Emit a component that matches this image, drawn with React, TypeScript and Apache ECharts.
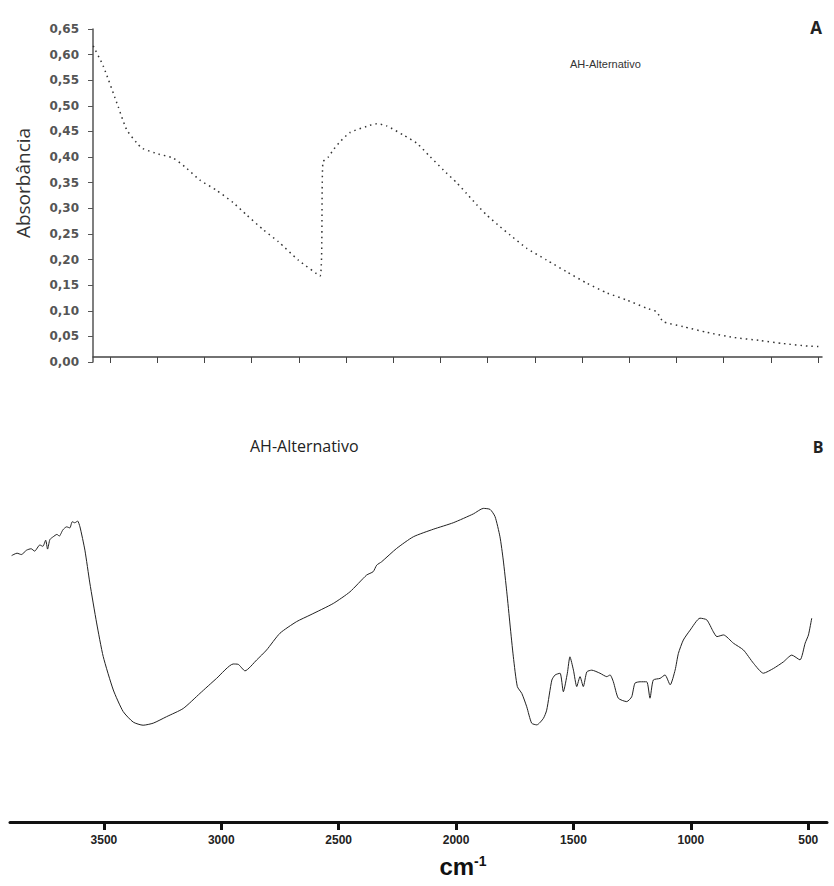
import React, { useEffect, useRef } from "react";
import * as echarts from "echarts";

// Panel A: absorbance (dotted curve)
const topWavenumber = [3671,3628,3565,3529,3487,3463,3395,3332,3275,3219,3148,3078,3021,2950,2887,2802,2710,2698,2675,2654,2625,2583,2512,2470,2428,2357,2300,2244,2188,2131,2089,2046,2004,1947,1905,1834,1750,1665,1580,1495,1411,1326,1284,1256,1171,1072,959,846,747,641,592];
const topAbsorbance = [0.617,0.577,0.498,0.453,0.428,0.417,0.406,0.398,0.378,0.355,0.335,0.311,0.287,0.258,0.235,0.199,0.168,0.390,0.400,0.414,0.430,0.448,0.460,0.465,0.461,0.443,0.427,0.401,0.375,0.350,0.329,0.307,0.287,0.264,0.248,0.222,0.199,0.176,0.154,0.135,0.121,0.105,0.098,0.079,0.069,0.058,0.048,0.042,0.036,0.031,0.030];
const topTicks = [600,800,1000,1200,1400,1600,1800,2000,2200,2400,2600,2800,3000,3200,3400,3600];

// Panel B: FTIR transmittance (arbitrary units)
const bottomWavenumber = [3893,3870,3852,3829,3810,3795,3773,3760,3748,3740,3730,3716,3700,3690,3675,3659,3645,3635,3624,3612,3602,3581,3560,3531,3503,3460,3418,3375,3333,3290,3233,3162,3091,3020,2949,2928,2899,2849,2807,2750,2679,2622,2523,2452,2381,2353,2338,2317,2253,2182,2097,2012,1926,1884,1855,1834,1813,1799,1784,1770,1756,1739,1720,1699,1678,1656,1628,1614,1592,1578,1557,1543,1526,1515,1500,1486,1472,1458,1443,1422,1387,1358,1344,1330,1309,1273,1252,1238,1216,1188,1174,1160,1131,1110,1088,1067,1053,1032,1003,961,932,904,889,861,819,776,733,691,648,606,570,535,513,499,485];
const bottomTransmittance = [77.9,78.6,78.2,79.5,79.9,79.2,81.0,80.6,82.4,79.8,82.6,83.4,84.1,83.6,85.4,86.3,86.0,87.8,87.5,88.0,86.3,79.5,69.9,58.2,48.4,38.6,32.3,29.2,28.3,28.9,30.8,33.2,37.6,42.0,46.2,46.1,44.2,47.4,50.3,55.2,58.6,60.5,63.9,67.3,72.2,73.2,75.1,76.1,80.0,83.4,85.6,87.5,90.1,91.7,91.4,89.3,83.4,76.6,67.3,57.6,48.3,39.6,37.6,33.7,28.9,28.4,30.3,32.7,41.5,43.0,43.5,38.1,43.5,48.3,44.4,39.6,42.5,39.6,43.9,44.4,43.5,42.5,43.0,41.0,36.2,35.2,36.6,40.6,41.0,41.0,36.2,41.5,42.0,43.0,40.1,44.4,49.3,53.2,56.1,59.6,59.1,55.6,54.2,54.7,52.3,50.3,46.4,43.5,44.9,46.8,48.8,47.4,52.3,54.7,59.6];
const bottomTicks = [500,1000,1500,2000,2500,3000,3500];

export default function App() {
  const ref = useRef<HTMLDivElement>(null);
  useEffect(() => {
    document.body.style.margin = "0";
    if (!ref.current) return;
    const chart = echarts.init(ref.current, undefined, { renderer: "svg" });
    const topData = topWavenumber.map((w, i) => [w, topAbsorbance[i]]);
    const bottomData = bottomWavenumber.map((w, i) => [w, bottomTransmittance[i]]);
    chart.setOption({
      animation: false,
      backgroundColor: "#ffffff",
      grid: [
        { left: 93, right: 12, top: 29, bottom: 524 },
        { left: 10, right: 7, top: 480, bottom: 64 },
      ],
      xAxis: [
        {
          gridIndex: 0,
          type: "value",
          min: 583,
          max: 3672,
          inverse: true,
          offset: -5,
          axisLine: { show: true, lineStyle: { color: "#444", width: 1.5 } },
          axisTick: { show: true, inside: false, length: 6, customValues: topTicks, lineStyle: { color: "#444", width: 1 } },
          axisLabel: { show: false },
          splitLine: { show: false },
        },
        {
          gridIndex: 1,
          type: "value",
          min: 420,
          max: 3900,
          inverse: true,
          axisLine: { show: true, lineStyle: { color: "#111", width: 3 } },
          axisTick: { show: true, inside: false, length: 8, customValues: bottomTicks, lineStyle: { color: "#111", width: 3 } },
          axisLabel: {
            show: true,
            customValues: bottomTicks,
            margin: 12,
            fontSize: 12,
            fontWeight: "bold",
            fontFamily: "Liberation Sans, Arial, sans-serif",
            color: "#222",
            formatter: (v: number) => String(v),
          },
          splitLine: { show: false },
        },
      ],
      yAxis: [
        {
          gridIndex: 0,
          type: "value",
          min: 0,
          max: 0.65,
          interval: 0.05,
          axisLine: { show: true, lineStyle: { color: "#555", width: 1.5 } },
          axisTick: { show: true, inside: false, length: 5, lineStyle: { color: "#555" } },
          axisLabel: {
            show: true,
            margin: 14,
            fontSize: 12,
            fontWeight: "bold",
            fontFamily: "DejaVu Sans, sans-serif",
            color: "#555",
            formatter: (v: number) => v.toFixed(2).replace(".", ","),
          },
          splitLine: { show: false },
        },
        {
          gridIndex: 1,
          type: "value",
          min: 0,
          max: 100,
          show: false,
          splitLine: { show: false },
        },
      ],
      series: [
        {
          type: "line",
          xAxisIndex: 0,
          yAxisIndex: 0,
          data: topData,
          showSymbol: false,
          smooth: 0.2,
          lineStyle: { color: "#333", width: 1.5, type: [1.5, 4] },
        },
        {
          type: "line",
          xAxisIndex: 1,
          yAxisIndex: 1,
          data: bottomData,
          showSymbol: false,
          smooth: 0.2,
          lineStyle: { color: "#222", width: 1 },
        },
      ],
      graphic: [
        {
          type: "text",
          x: 23,
          y: 183,
          rotation: Math.PI / 2,
          style: {
            text: "Absorbância",
            fontSize: 19,
            fontFamily: "Open Sans, sans-serif",
            fill: "#333",
            align: "center",
            verticalAlign: "middle",
          },
        },
        {
          type: "text",
          x: 570,
          y: 64,
          style: {
            text: "AH-Alternativo",
            fontSize: 11,
            fontFamily: "Liberation Sans, Arial, sans-serif",
            fill: "#333",
            verticalAlign: "middle",
          },
        },
        {
          type: "text",
          x: 816,
          y: 27,
          style: { text: "A", fontSize: 17, fontWeight: "bold", fontFamily: "Open Sans, sans-serif", fill: "#222", align: "center", verticalAlign: "middle" },
        },
        {
          type: "text",
          x: 818,
          y: 447,
          style: { text: "B", fontSize: 16, fontWeight: "bold", fontFamily: "Open Sans, sans-serif", fill: "#222", align: "center", verticalAlign: "middle" },
        },
        {
          type: "text",
          x: 250,
          y: 446,
          style: {
            text: "AH-Alternativo",
            fontSize: 16,
            fontFamily: "Open Sans, sans-serif",
            fill: "#222",
            verticalAlign: "middle",
          },
        },
        {
          type: "text",
          x: 463,
          y: 866,
          style: {
            text: "{a|cm}{b|-1}",
            align: "center",
            verticalAlign: "middle",
            rich: {
              a: { fontSize: 24, fontWeight: "bold", fontFamily: "Liberation Sans, Arial, sans-serif", fill: "#111" },
              b: { fontSize: 14, fontWeight: "bold", fontFamily: "Liberation Sans, Arial, sans-serif", fill: "#111", padding: [0, 0, 10, 0] },
            },
          },
        },
      ],
    });
    return () => chart.dispose();
  }, []);
  return <div ref={ref} style={{ width: 834, height: 886 }} />;
}
